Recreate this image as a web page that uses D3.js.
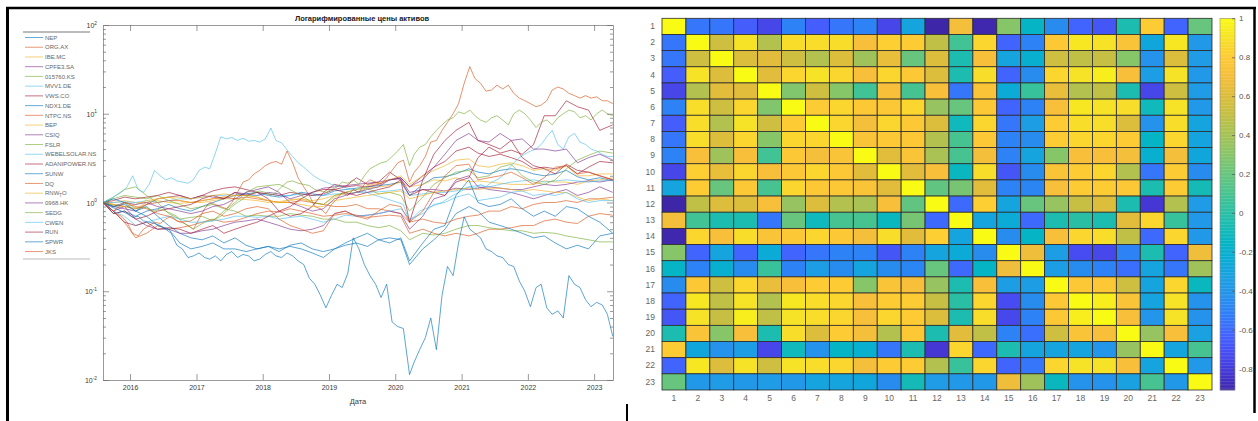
<!DOCTYPE html>
<html>
<head>
<meta charset="utf-8">
<script src="https://cdn.jsdelivr.net/npm/d3@7"></script>
<style>
  body { margin: 0; background: #fff; }
  svg { display: block; font-family: "Liberation Sans", Arial, sans-serif; }
</style>
</head>
<body>
<svg id="chart" width="1258" height="421"></svg>
<script>
// ---------- line chart data (price / first price) ----------
var tickers = ["NEP","ORG.AX","IBE.MC","CPFE3.SA","015760.KS","MVV1.DE","VWS.CO","NDX1.DE","NTPC.NS","BEP",
               "CSIQ","FSLR","WEBELSOLAR.NS","ADANIPOWER.NS","SUNW","DQ","RNW_TO","0968.HK","SEDG","CWEN",
               "RUN","SPWR","JKS"];

// every second month
var dates2m = ["2015-08-05","2015-10-01","2015-12-01","2016-02-01","2016-04-01","2016-06-01","2016-08-01","2016-10-01",
             "2016-12-01","2017-02-01","2017-04-01","2017-06-01","2017-08-01","2017-10-01","2017-12-01","2018-02-01",
             "2018-04-01","2018-06-01","2018-08-01","2018-10-01","2018-12-01","2019-02-01","2019-04-01","2019-06-01",
             "2019-08-01","2019-10-01","2019-12-01","2020-02-01","2020-03-20","2020-06-01","2020-08-01","2020-10-01",
             "2020-12-01","2021-02-10","2021-04-01","2021-06-01","2021-08-01","2021-10-01","2021-12-01","2022-02-01",
             "2022-04-01","2022-06-01","2022-08-01","2022-10-01","2022-12-01","2023-02-01","2023-04-14"];

// every month (for the most visible series)
var dates1m = ["2015-08-05","2015-09-15","2015-10-15","2015-11-15","2015-12-15",
  "2016-01-15","2016-02-15","2016-03-15","2016-04-15","2016-05-15","2016-06-15","2016-07-15","2016-08-15","2016-09-15","2016-10-15","2016-11-15","2016-12-15",
  "2017-01-15","2017-02-15","2017-03-15","2017-04-15","2017-05-15","2017-06-15","2017-07-15","2017-08-15","2017-09-15","2017-10-15","2017-11-15","2017-12-15",
  "2018-01-15","2018-02-15","2018-03-15","2018-04-15","2018-05-15","2018-06-15","2018-07-15","2018-08-15","2018-09-15","2018-10-15","2018-11-15","2018-12-15",
  "2019-01-15","2019-02-15","2019-03-15","2019-04-15","2019-05-15","2019-06-15","2019-07-15","2019-08-15","2019-09-15","2019-10-15","2019-11-15","2019-12-15",
  "2020-01-15","2020-02-15","2020-03-20","2020-04-15","2020-05-15","2020-06-15","2020-07-15","2020-08-15","2020-09-15","2020-10-15","2020-11-15","2020-12-15",
  "2021-01-15","2021-02-15","2021-03-15","2021-04-15","2021-05-15","2021-06-15","2021-07-15","2021-08-15","2021-09-15","2021-10-15","2021-11-15","2021-12-15",
  "2022-01-15","2022-02-15","2022-03-15","2022-04-15","2022-05-15","2022-06-15","2022-07-15","2022-08-15","2022-09-15","2022-10-15","2022-11-15","2022-12-15",
  "2023-01-15","2023-02-15","2023-03-15","2023-04-14"];

var NEP = [1,0.75,0.8,0.7,0.8, 0.85,0.95,0.85,0.8,0.9, 1.0,1.1,1.2,1.25,1.3, 1.2,1.15,1.2,1.3,1.25, 1.2,1.35,1.4,1.45,1.5, 1.55,1.6,1.7,1.2,1.6, 1.9,1.95,2.1,2.4,2.2, 2.1,2.3,2.4,2.3,2.1, 2.0,2.1,2.3,1.95,1.8, 1.9,1.75];
var ORG = [1,0.8,0.6,0.4,0.45, 0.55,0.5,0.52,0.55,0.6, 0.65,0.6,0.62,0.68,0.75, 0.8,0.78,0.85,0.8,0.75, 0.7,0.72,0.75,0.72,0.68, 0.7,0.72,0.7,0.45,0.5, 0.45,0.42,0.45,0.42,0.45, 0.5,0.5,0.52,0.55,0.55, 0.62,0.65,0.6,0.58,0.7, 0.75,0.72];
var IBE = [1,1.0,1.05,1.0,1.0, 1.05,1.0,0.98,1.0,1.0, 1.05,1.1,1.1,1.08,1.05, 1.0,1.02,1.08,1.1,1.05, 1.1,1.2,1.25,1.3,1.45, 1.5,1.55,1.7,1.5,1.6, 1.8,1.75,1.9,1.7,1.75, 1.7,1.65,1.6,1.6,1.6, 1.75,1.7,1.7,1.6,1.75, 1.8,1.9];
var CPFE3 = [1,0.9,0.85,0.8,0.95, 1.1,1.15,1.2,1.1,1.2, 1.15,1.1,1.3,1.25,1.2, 1.3,1.25,1.1,1.2,1.3, 1.45,1.5,1.55,1.6,1.65, 1.7,1.8,1.85,1.3,1.4, 1.4,1.35,1.45,1.4,1.45, 1.5,1.45,1.4,1.4,1.5, 1.6,1.55,1.6,1.7,1.75, 1.7,1.8];
var KEPCO = [1,1.1,1.2,1.15,1.1, 1.2,1.05,0.95,0.85,0.9, 0.95,0.85,0.8,0.7,0.72, 0.7,0.7,0.75,0.72,0.7, 0.65,0.65,0.6,0.6,0.55, 0.52,0.55,0.48,0.38,0.45, 0.43,0.45,0.5,0.55,0.55, 0.52,0.5,0.48,0.48,0.45, 0.46,0.45,0.42,0.4,0.38, 0.36,0.36];
var MVV1 = [1,1.0,1.02,1.0,1.05, 1.0,1.05,1.1,1.1,1.15, 1.2,1.2,1.25,1.2,1.2, 1.25,1.2,1.2,1.25,1.2, 1.2,1.25,1.25,1.3,1.3, 1.32,1.35,1.4,1.2,1.25, 1.3,1.3,1.35,1.5,1.55, 1.5,1.6,1.7,1.75,1.8, 1.7,1.75,1.8,1.75,1.7, 1.75,1.8];
var VWS = [1,1.05,1.15,1.1,1.15, 1.2,1.3,1.2,1.1,1.2, 1.35,1.45,1.5,1.4,1.3, 1.25,1.2,1.3,1.25,1.2, 1.25,1.4,1.5,1.55,1.5, 1.6,1.8,1.9,1.5,2.0, 2.5,2.9,3.8,4.2,3.6, 3.3,3.5,3.2,2.9,2.4, 2.5,2.4,2.6,2.1,2.5, 2.9,2.8];
var NDX1 = [1,1.1,1.0,0.8,0.9, 0.7,0.55,0.45,0.4,0.38, 0.42,0.35,0.4,0.33,0.3, 0.32,0.28,0.33,0.35,0.3, 0.28,0.3,0.33,0.35,0.32, 0.38,0.4,0.38,0.2,0.3, 0.38,0.5,0.75,0.9,0.8, 0.6,0.55,0.5,0.45,0.4, 0.42,0.35,0.3,0.33,0.3, 0.42,0.45];
var NTPC = [1,0.95,0.9,0.85,0.95, 1.0,1.05,1.05,1.0,1.05, 1.1,1.15,1.1,1.15,1.1, 1.05,1.0,1.0,1.05,1.0, 0.95,0.9,0.9,0.95,0.85, 0.85,0.8,0.75,0.6,0.65, 0.6,0.58,0.65,0.7,0.72, 0.8,0.8,0.9,0.85,0.95, 1.0,1.0,1.05,1.0,1.1, 1.1,1.15];
var BEP = [1,0.95,0.9,0.85,1.0, 1.1,1.15,1.05,1.0,1.05, 1.1,1.15,1.2,1.2,1.15, 1.05,1.0,1.05,1.1,1.0, 0.95,1.15,1.3,1.4,1.55, 1.65,1.8,2.0,1.6,2.0, 2.3,2.6,3.0,3.1,2.6, 2.5,2.7,2.8,2.6,2.3, 2.4,2.3,2.6,2.0,2.0, 2.1,2.1];
var CSIQ = [1,0.8,0.9,0.65,0.55, 0.5,0.5,0.45,0.45,0.48, 0.5,0.55,0.6,0.62,0.65, 0.6,0.55,0.5,0.48,0.5, 0.55,0.75,0.8,0.7,0.72, 0.75,0.8,0.75,0.5,0.7, 1.1,1.2,1.8,2.0,1.5, 1.4,1.35,1.3,1.2,1.1, 1.2,1.3,1.4,1.2,1.3, 1.5,1.3];
var FSLR = [1,1.15,1.4,1.5,1.2, 1.0,0.75,0.65,0.68,0.7, 0.62,0.8,1.0,1.3,1.5, 1.55,1.6,1.4,1.2,1.0, 0.95,1.2,1.3,1.4,1.45, 1.25,1.3,1.2,0.8,1.15, 1.6,1.9,2.2,2.3,1.9, 2.0,2.5,2.7,2.0,1.7, 1.6,1.8,2.4,3.0,3.4, 3.8,3.6];
var WEBEL = [1.0,1.1,1.2,1.3,1.5, 2.0,1.4,1.3,1.6,2.3, 2.0,1.8,1.9,1.75,1.7, 1.65,1.8,2.3,2.5,2.4,
             3.6,5.5,5.2,5.4,5.0, 5.3,4.9,5.0,4.8,5.2, 6.9,5.0,4.7,3.9,3.3, 2.8,2.5,2.2,1.95,1.8,
             1.7,1.6,1.55,1.5,1.45, 1.4,1.3,1.35,1.25,1.2, 1.15,1.1,1.05,1.0,0.95, 0.6,0.7,0.8,0.85,0.9,
             0.95,1.0,1.1,1.2,1.3, 1.4,1.5,1.45,1.6,1.5, 1.7,1.8,2.0,2.4,2.8, 3.2,3.5,3.8,4.0,4.5,
             5.5,6.5,4.5,4.0,5.5, 6.0,4.8,4.5,4.0,3.8, 3.5,3.3,3.3];
var ADANI = [1,0.75,0.8,0.65,0.7, 0.8,0.85,0.9,0.95,1.1, 1.2,1.1,1.3,1.2,1.3, 1.1,0.8,0.7,0.75,0.9, 1.3,1.6,1.5,1.9,1.6, 1.7,2.2,1.8,1.2,1.4, 1.3,1.2,1.7,1.9,3.2, 4.2,3.6,3.9,3.5,4.5, 9.5,9.5,14,12,11, 6.5,7.5];
var SUNW = [1.0,0.9,0.85,0.8,0.75, 0.68,0.7,0.62,0.6,0.58, 0.55,0.5,0.45,0.33,0.3, 0.24,0.25,0.27,0.24,0.23,
            0.25,0.22,0.26,0.28,0.24, 0.26,0.25,0.22,0.23,0.26, 0.28,0.25,0.24,0.27,0.25, 0.22,0.2,0.14,0.12,0.09,
            0.065,0.09,0.12,0.11,0.16, 0.4,0.3,0.2,0.15,0.12, 0.085,0.12,0.045,0.04,0.038, 0.0115,0.016,0.022,0.03,0.05,
            0.022,0.09,0.19,0.15,0.35, 0.69,0.5,0.45,0.4,0.3, 0.28,0.25,0.24,0.2,0.19, 0.13,0.1,0.067,0.11,0.12,
            0.065,0.055,0.06,0.05,0.15, 0.12,0.11,0.08,0.067,0.075, 0.07,0.055,0.031];
var DQ = [1.0,0.85,0.75,0.7,0.6, 0.45,0.42,0.5,0.55,0.6, 0.58,0.65,0.7,0.62,0.6, 0.55,0.5,0.65,0.85,1.0,
          0.95,0.9,0.85,1.0,1.3, 1.7,1.8,2.1,2.3,2.6, 2.8,2.9,2.7,3.8,2.8, 1.9,1.5,1.2,0.9,0.85,
          0.75,0.95,1.1,1.3,1.2, 1.4,1.3,1.6,1.8,1.7, 1.6,1.9,2.3,2.8,3.0, 1.7,2.2,2.6,3.3,4.8,
          5.0,6.5,8.0,10,13, 22,34,25,22,18, 18.5,21,19,21,17, 15,14,13,12,12.5,
          14,18.5,20,19,17, 16,15,16,15,15.5, 14,14,13];
var RNW = [1,0.95,0.9,0.95,1.05, 1.1,1.15,1.15,1.1,1.15, 1.2,1.25,1.2,1.2,1.15, 1.05,1.0,1.0,0.95,0.9, 0.9,1.05,1.1,1.15,1.2, 1.25,1.3,1.35,1.1,1.2, 1.3,1.35,1.4,1.45,1.4, 1.45,1.45,1.4,1.35,1.4, 1.35,1.3,1.3,1.15,1.05, 1.1,1.05];
var XINYI = [1,0.9,1.0,0.95,1.0, 0.9,0.85,0.8,0.75,0.8, 0.9,0.95,1.1,1.3,1.4, 1.5,1.3,1.0,0.9,0.8, 0.85,1.1,1.2,1.3,1.4, 1.5,1.8,1.9,1.5,1.8, 2.5,3.5,5.0,6.0,5.0, 4.8,6.0,5.0,5.2,4.0, 4.0,3.8,4.0,2.8,3.2, 3.5,3.0];
var SEDG = [1,0.95,0.9,0.95,1.0, 0.9,0.85,0.9,0.85,0.8, 0.85,0.8,0.75,0.7,0.6, 0.55,0.5,0.55,0.6,0.62,
            0.65,0.7,0.8,0.9,1.0, 1.1,1.2,1.3,1.35,1.3, 1.2,1.3,1.5,1.7,1.75, 1.65,1.6,1.55,1.4,1.35,
            1.3,1.4,1.5,1.7,1.65, 1.8,1.6,2.0,2.4,2.6, 2.8,2.9,3.3,3.8,4.5, 2.6,3.5,4.2,4.5,5.5,
            6.5,7.5,8.5,9,10.5, 10,11,9.5,8.5,8, 9,9.5,8.5,7.5,10, 11,10,8.5,7,8,
            8.5,7.5,9,10,11, 10.5,9,9.5,8.5,10, 11,10,9.5];
var CWEN = [1,0.8,0.7,0.55,0.6, 0.65,0.7,0.65,0.6,0.6, 0.62,0.65,0.7,0.7,0.68, 0.7,0.65,0.68,0.7,0.65, 0.6,0.65,0.72,0.7,0.72, 0.75,0.8,0.85,0.65,0.75, 0.95,1.0,1.15,1.25,1.05, 1.1,1.15,1.3,1.35,1.2, 1.25,1.2,1.3,1.1,1.0, 1.05,1.05];
var RUN = [1,0.8,0.6,0.55,0.6, 0.5,0.52,0.5,0.45,0.5, 0.55,0.45,0.5,0.55,0.6, 0.7,0.8,0.9,1.1,1.3, 1.4,1.4,1.3,1.2,1.3, 1.4,1.5,1.8,0.6,1.8, 3.5,5.0,6.5,8.0,5.0, 4.5,4.0,5.0,3.2,2.6, 2.4,2.1,2.7,2.3,2.2, 2.0,1.8];
var SPWR = [1,0.9,0.95,0.8,0.7, 0.55,0.5,0.35,0.3,0.32, 0.35,0.3,0.3,0.28,0.3, 0.32,0.3,0.32,0.3,0.27, 0.24,0.3,0.35,0.4,0.45, 0.38,0.35,0.4,0.22,0.35, 0.5,0.55,1.2,1.8,1.0, 0.9,0.95,1.1,0.85,0.7, 0.8,0.7,0.9,0.85,0.7, 0.6,0.45];
var JKS = [1,0.8,1.0,0.9,0.85, 0.75,0.7,0.6,0.62,0.75, 0.8,0.7,0.75,0.85,0.9, 0.85,0.65,0.55,0.5,0.45, 0.48,0.75,0.8,0.7,0.65, 0.8,0.95,0.9,0.6,0.8, 1.3,2.0,2.6,2.7,1.8, 1.9,2.0,2.2,1.9,1.6, 1.9,2.5,2.6,2.1,2.2, 2.0,1.8];

var seriesValues = [NEP, ORG, IBE, CPFE3, KEPCO, MVV1, VWS, NDX1, NTPC, BEP, CSIQ, FSLR, WEBEL, ADANI,
                    SUNW, DQ, RNW, XINYI, SEDG, CWEN, RUN, SPWR, JKS];

// matlab default color order, cycled over the series
var colorOrder = ["#0072BD","#D95319","#EDB120","#7E2F8E","#77AC30","#4DBEEE","#A2142F"];

var yearTicks = [2016, 2017, 2018, 2019, 2020, 2021, 2022, 2023];
var decadeTicks = [0.01, 0.1, 1, 10, 100];
var decadeExp = ["-2", "-1", "0", "1", "2"];

// ---------- correlation matrix (lower triangle incl. diagonal) ----------
var corrLower = [
  [1],
  [-0.55, 1],
  [-0.55, 0.55, 1],
  [-0.65, 0.9, 0.6, 1],
  [-0.75, 0.45, 0.62, 0.62, 1],
  [-0.5, 0.88, 0.55, 0.85, 0.28, 1],
  [-0.65, 0.88, 0.45, 0.9, 0.55, 0.8, 1],
  [-0.55, 0.88, 0.6, 0.85, 0.3, 0.85, 0.85, 1],
  [-0.5, 0.72, 0.38, 0.72, 0.08, 0.78, 0.7, 0.75, 1],
  [-0.75, 0.82, 0.65, 0.85, 0.72, 0.78, 0.85, 0.78, 0.62, 1],
  [-0.3, 0.8, 0.2, 0.78, 0.1, 0.85, 0.78, 0.78, 0.75, 0.62, 1],
  [-0.91, 0.5, 0.6, 0.6, 0.72, 0.35, 0.6, 0.45, 0.42, 0.72, 0.18, 1],
  [0.7, 0.08, -0.05, -0.05, -0.55, 0.2, -0.1, 0.1, 0.1, -0.12, 0.25, -0.6, 1],
  [-0.9, 0.85, 0.72, 0.88, 0.75, 0.78, 0.85, 0.78, 0.7, 0.88, 0.62, 0.82, -0.3, 1],
  [0.3, -0.62, -0.3, -0.62, -0.25, -0.62, -0.55, -0.5, -0.5, -0.68, -0.5, -0.3, -0.25, -0.45, 1],
  [-0.15, -0.5, -0.2, -0.45, 0.05, -0.5, -0.35, -0.45, -0.3, -0.45, -0.48, 0.2, -0.6, -0.15, 0.68, 1],
  [-0.45, 0.78, 0.55, 0.85, 0.65, 0.72, 0.8, 0.8, 0.3, 0.75, 0.72, 0.35, -0.05, 0.72, -0.35, -0.35, 1],
  [-0.62, 0.92, 0.5, 0.9, 0.45, 0.92, 0.88, 0.85, 0.72, 0.8, 0.8, 0.52, 0.0, 0.85, -0.72, -0.45, 0.78, 1],
  [-0.68, 0.9, 0.52, 0.95, 0.5, 0.9, 0.88, 0.85, 0.72, 0.85, 0.8, 0.6, -0.05, 0.88, -0.74, -0.5, 0.78, 0.95, 1],
  [-0.05, 0.75, 0.3, 0.72, -0.05, 0.88, 0.6, 0.8, 0.7, 0.45, 0.78, -0.05, 0.62, 0.5, -0.5, -0.58, 0.55, 0.75, 0.72, 1],
  [0.8, -0.28, -0.42, -0.35, -0.75, -0.1, -0.42, -0.15, -0.2, -0.55, -0.05, -0.82, 0.85, -0.6, -0.05, -0.3, -0.3, -0.3, -0.4, 0.35, 1],
  [-0.62, 0.92, 0.6, 0.9, 0.55, 0.9, 0.88, 0.85, 0.7, 0.8, 0.8, 0.45, 0.05, 0.85, -0.62, -0.55, 0.85, 0.9, 0.9, 0.72, -0.3, 1],
  [0.2, -0.38, -0.36, -0.38, -0.36, -0.38, -0.3, -0.3, -0.28, -0.45, -0.08, -0.36, -0.38, -0.38, 0.68, 0.38, -0.12, -0.42, -0.42, -0.32, 0.1, -0.38, 1]
];

var cbTicks = [-0.8, -0.6, -0.4, -0.2, 0, 0.2, 0.4, 0.6, 0.8, 1];

// parula colormap stops (position 0..1, rgb 0..1)
var parulaPos = [0, 0.05, 0.1, 0.15, 0.2, 0.25, 0.3, 0.35, 0.4, 0.45, 0.5, 0.55, 0.6, 0.65, 0.7, 0.75, 0.8, 0.85, 0.9, 0.95, 1];
var parulaRgb = [[0.2422,0.1504,0.6603],[0.2700,0.2200,0.8400],[0.2780,0.3000,0.9500],[0.2600,0.3900,0.9950],
                 [0.1900,0.4850,0.9800],[0.1500,0.5650,0.9300],[0.1100,0.6250,0.8900],[0.0400,0.6700,0.8400],
                 [0.0200,0.7100,0.7700],[0.1100,0.7400,0.6900],[0.2100,0.7600,0.6100],[0.3300,0.7700,0.5400],
                 [0.4500,0.7750,0.4600],[0.5700,0.7700,0.3900],[0.6750,0.7600,0.3200],[0.7800,0.7500,0.2600],
                 [0.8800,0.7400,0.2300],[0.9700,0.7500,0.2300],[0.9950,0.8000,0.2000],[0.9650,0.8900,0.1500],
                 [0.9769,0.9839,0.0805]];

var svg;
var lineBox = { left: 103, right: 613, top: 25, bottom: 380 };
var heatBox = { left: 662, right: 1212, top: 18.3, bottom: 390 };
var cbBox = { left: 1220, right: 1235 };
var axisGrey = "#6e6e6e";

document.addEventListener('DOMContentLoaded', function() {
    svg = d3.select("#chart");
    drawLines();
    drawLegend();
    drawHeatmap();
    drawFrame();
});

function styleAxis(g) {
    g.selectAll("path, line").attr("stroke", axisGrey).attr("stroke-width", 0.7);
    g.selectAll("text").attr("fill", "#3a3a3a").style("font-size", "7px");
}

function drawLines() {
    var parse = d3.timeParse("%Y-%m-%d");
    var x = d3.scaleTime()
        .domain([new Date(2015, 7, 5), new Date(2023, 3, 15)])
        .range([lineBox.left, lineBox.right]);
    var y = d3.scaleLog()
        .domain([0.01, 100])
        .range([lineBox.bottom, lineBox.top]);

    var minorTicks = [];
    decadeTicks.slice(0, 4).forEach(function(d) {
        for (var m = 2; m < 10; m++) minorTicks.push(d * m);
    });
    var yearDates = yearTicks.map(function(yr) { return new Date(yr, 0, 1); });

    svg.append("clipPath").attr("id", "plot-clip")
      .append("rect")
        .attr("x", lineBox.left).attr("y", lineBox.top)
        .attr("width", lineBox.right - lineBox.left)
        .attr("height", lineBox.bottom - lineBox.top);

    var line = d3.line()
        .x(d => x(d.date))
        .y(d => y(d.v));

    var plot = svg.append("g").attr("clip-path", "url(#plot-clip)");
    seriesValues.forEach(function(vals, i) {
        var ds = vals.length === dates1m.length ? dates1m : dates2m;
        var pts = ds.map((d, k) => ({ date: parse(d), v: vals[k] })).filter(p => p.v > 0);
        plot.append("path")
            .datum(pts)
            .attr("d", line)
            .style("fill", "none")
            .style("stroke", colorOrder[i % colorOrder.length])
            .style("stroke-width", "0.75px")
            .style("stroke-opacity", 0.85);
    });

    // axes, matlab style: box with inward ticks
    var gx = svg.append("g")
        .attr("transform", "translate(0," + lineBox.bottom + ")")
        .call(d3.axisBottom(x).tickValues(yearDates).tickFormat(d3.timeFormat("%Y"))
              .tickSizeInner(-6).tickSizeOuter(0).tickPadding(5));
    styleAxis(gx);

    var gt = svg.append("g")
        .attr("transform", "translate(0," + lineBox.top + ")")
        .call(d3.axisTop(x).tickValues(yearDates).tickFormat("").tickSizeInner(-6).tickSizeOuter(0));
    styleAxis(gt);

    [[lineBox.left, d3.axisLeft], [lineBox.right, d3.axisRight]].forEach(function(a) {
        var gMaj = svg.append("g")
            .attr("transform", "translate(" + a[0] + ",0)")
            .call(a[1](y).tickValues(decadeTicks).tickFormat("").tickSizeInner(-6).tickSizeOuter(0));
        styleAxis(gMaj);
        var gMin = svg.append("g")
            .attr("transform", "translate(" + a[0] + ",0)")
            .call(a[1](y).tickValues(minorTicks).tickFormat("").tickSizeInner(-3).tickSizeOuter(0));
        styleAxis(gMin);
        gMin.select(".domain").remove();
    });

    // decade labels 10^k
    decadeTicks.forEach(function(d, i) {
        var t = svg.append("text")
            .attr("x", lineBox.left - 6)
            .attr("y", y(d) + 3)
            .attr("text-anchor", "end")
            .style("font-size", "7px")
            .style("fill", "#3a3a3a")
            .text("10");
        t.append("tspan")
            .attr("dy", -3.5)
            .style("font-size", "4.8px")
            .text(decadeExp[i]);
    });

    svg.append("text")
        .attr("x", (lineBox.left + lineBox.right) / 2)
        .attr("y", 404)
        .attr("text-anchor", "middle")
        .style("font-size", "7.5px")
        .style("fill", "#3a3a3a")
        .text("Дата");

    svg.append("text")
        .attr("x", 362)
        .attr("y", 21)
        .attr("text-anchor", "middle")
        .style("font-size", "7.5px")
        .style("font-weight", "bold")
        .style("fill", "#1a1a1a")
        .text("Логарифмированные цены активов");
}

function drawLegend() {
    var top = 32, bottom = 259, step = 9.73;
    svg.append("line").attr("x1", 23).attr("x2", 90).attr("y1", top).attr("y2", top)
        .attr("stroke", "#555").attr("stroke-width", 0.8);
    svg.append("line").attr("x1", 23).attr("x2", 90).attr("y1", bottom).attr("y2", bottom)
        .attr("stroke", "#aaa").attr("stroke-width", 0.8);

    tickers.forEach(function(name, i) {
        var yy = 37.5 + i * step;
        svg.append("line")
            .attr("x1", 25).attr("x2", 43).attr("y1", yy).attr("y2", yy)
            .attr("stroke", colorOrder[i % colorOrder.length])
            .attr("stroke-width", 0.8)
            .attr("stroke-opacity", 0.75);
        var t = svg.append("text")
            .attr("x", 45)
            .attr("y", yy + 2.2)
            .style("font-size", "6px")
            .style("fill", "#666");
        if (name.indexOf("_") >= 0) {
            // tex interpreter turns the underscore into a subscript
            var parts = name.split("_");
            t.append("tspan").text(parts[0]);
            t.append("tspan").attr("dy", 2).style("font-size", "4.5px").text(parts[1].charAt(0));
            t.append("tspan").attr("dy", -2).text(parts[1].slice(1));
        } else {
            t.text(name);
        }
    });
}

function drawHeatmap() {
    var n = corrLower.length;
    var cells = [];
    var matrix = d3.range(n).map(() => []);
    for (var r = 0; r < n; r++) {
        for (var c = 0; c <= r; c++) {
            matrix[r][c] = corrLower[r][c];
            matrix[c][r] = corrLower[r][c];
        }
    }
    for (r = 0; r < n; r++) for (c = 0; c < n; c++) cells.push({ row: r + 1, col: c + 1, v: matrix[r][c] });

    var ext = d3.extent(cells, d => d.v);
    var parula = d3.scaleLinear()
        .domain(parulaPos)
        .range(parulaRgb.map(c => d3.rgb(c[0] * 255, c[1] * 255, c[2] * 255)))
        .interpolate(d3.interpolateRgb);
    var color = v => parula((v - ext[0]) / (ext[1] - ext[0]));

    var idx = d3.range(1, n + 1);
    var xh = d3.scaleBand().domain(idx).range([heatBox.left, heatBox.right]);
    var yh = d3.scaleBand().domain(idx).range([heatBox.top, heatBox.bottom]);

    svg.append("g").selectAll("rect")
        .data(cells)
        .join("rect")
        .attr("x", d => xh(d.col))
        .attr("y", d => yh(d.row))
        .attr("width", xh.bandwidth())
        .attr("height", yh.bandwidth())
        .attr("fill", d => color(d.v))
        .attr("stroke", "#2b2b2b")
        .attr("stroke-width", 0.8);

    var gl = svg.append("g")
        .attr("transform", "translate(" + heatBox.left + ",0)")
        .call(d3.axisLeft(yh).tickSize(0).tickPadding(7));
    gl.select(".domain").remove();
    gl.selectAll("text").attr("fill", "#666").style("font-size", "8.5px");

    var gb = svg.append("g")
        .attr("transform", "translate(0," + heatBox.bottom + ")")
        .call(d3.axisBottom(xh).tickSize(0).tickPadding(5));
    gb.select(".domain").remove();
    gb.selectAll("text").attr("fill", "#666").style("font-size", "8.5px");

    // colorbar
    var yc = d3.scaleLinear().domain([ext[0], ext[1]]).range([heatBox.bottom, heatBox.top]);
    var bands = d3.range(256);
    var bandH = (heatBox.bottom - heatBox.top) / 256;
    svg.append("g").selectAll("rect")
        .data(bands)
        .join("rect")
        .attr("x", cbBox.left)
        .attr("y", d => heatBox.bottom - (d + 1) * bandH)
        .attr("width", cbBox.right - cbBox.left)
        .attr("height", bandH + 0.3)
        .attr("fill", d => color(ext[0] + (d + 0.5) / 256 * (ext[1] - ext[0])));

    svg.append("rect")
        .attr("x", cbBox.left).attr("y", heatBox.top)
        .attr("width", cbBox.right - cbBox.left)
        .attr("height", heatBox.bottom - heatBox.top)
        .attr("fill", "none")
        .attr("stroke", "#8a8a8a")
        .attr("stroke-width", 0.6);

    var gc = svg.append("g")
        .attr("transform", "translate(" + cbBox.right + ",0)")
        .call(d3.axisRight(yc).tickValues(cbTicks).tickFormat(d => String(d))
              .tickSizeInner(-3).tickSizeOuter(0).tickPadding(4));
    gc.select(".domain").remove();
    gc.selectAll("line").attr("stroke", "#555").attr("stroke-width", 0.7);
    gc.selectAll("text").attr("fill", "#555").style("font-size", "8px");
}

function drawFrame() {
    // black border of the screenshot
    svg.append("line").attr("x1", 6).attr("x2", 1256).attr("y1", 8).attr("y2", 8)
        .attr("stroke", "#000").attr("stroke-width", 2.5);
    svg.append("line").attr("x1", 7.5).attr("x2", 7.5).attr("y1", 7).attr("y2", 421)
        .attr("stroke", "#000").attr("stroke-width", 3);
    svg.append("line").attr("x1", 1254.5).attr("x2", 1254.5).attr("y1", 7).attr("y2", 413)
        .attr("stroke", "#000").attr("stroke-width", 2.5);
    svg.append("line").attr("x1", 627).attr("x2", 627).attr("y1", 404).attr("y2", 421)
        .attr("stroke", "#000").attr("stroke-width", 2);
}
</script>
</body>
</html>
